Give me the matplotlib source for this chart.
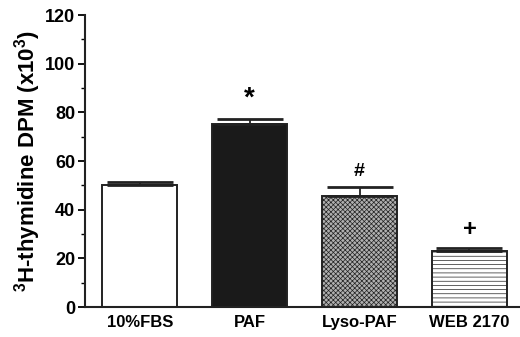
import matplotlib.pyplot as plt
from matplotlib.ticker import MultipleLocator

plt.rcParams["font.family"] = ["Liberation Sans", "DejaVu Sans"]
plt.rcParams["font.weight"] = "bold"
plt.rcParams["mathtext.fontset"] = "custom"
plt.rcParams["mathtext.rm"] = "Liberation Sans:bold"
plt.rcParams["mathtext.bf"] = "Liberation Sans:bold"
plt.rcParams["hatch.linewidth"] = 0.5
plt.rcParams["hatch.color"] = "#333333"

groups = ["10%FBS", "PAF", "Lyso-PAF", "WEB 2170"]
means = [50.2, 75.4, 45.8, 23.0]
errors = [1.3, 1.9, 3.6, 1.1]
marks = ["", "*", "#", "+"]

faces = ["white", "#1a1a1a", "#b0b0b0", "white"]
hatches = [None, None, "xxxxxxx", "----"]

fig = plt.figure(figsize=(5.2, 3.37), dpi=100)
ax = fig.add_axes([0.163, 0.089, 0.837, 0.866])

x = range(len(groups))
bars = ax.bar(x, means, width=0.68, color=faces, edgecolor="#222222", linewidth=1.4,
              yerr=[[0] * 4, errors], capsize=24,
              error_kw=dict(ecolor="#222222", elinewidth=1.3, capthick=2))
for b, h in zip(bars, hatches):
    if h:
        b.set_hatch(h)

sizes = {"*": 20, "#": 14, "+": 17}
for i, m in enumerate(marks):
    if m:
        ax.text(i, means[i] + errors[i] + 3, m, ha="center", va="bottom",
                fontsize=sizes[m], fontweight="bold")

ax.set_xlim(-0.5, 3.46)
ax.set_ylim(0, 120)
ax.yaxis.set_major_locator(MultipleLocator(20))
ax.yaxis.set_minor_locator(MultipleLocator(10))
ax.set_xticks(list(x))
ax.set_xticklabels(groups, fontsize=12, fontweight="bold")
ax.tick_params(axis="x", length=0, pad=6)
ax.tick_params(axis="y", which="major", length=5, width=1.3, labelsize=13, pad=2)
ax.tick_params(axis="y", which="minor", length=3, width=1)
for s in ["top", "right"]:
    ax.spines[s].set_visible(False)
for s in ["left", "bottom"]:
    ax.spines[s].set_linewidth(1.5)
    ax.spines[s].set_color("#222222")

ax.set_ylabel(r"$^{3}$H-thymidine DPM (x10$^{3}$)", fontsize=16, fontweight="bold", labelpad=1)

fig.savefig("out.png", dpi=100)
